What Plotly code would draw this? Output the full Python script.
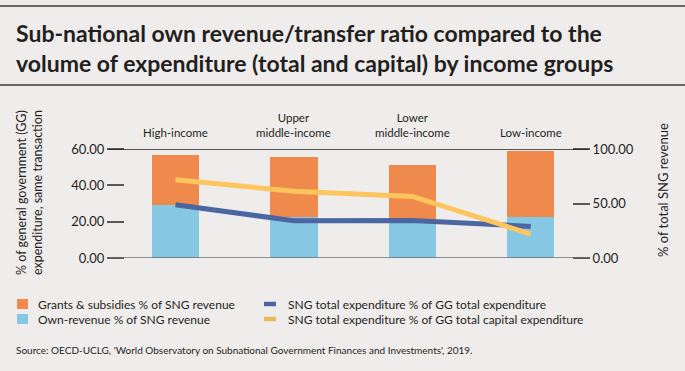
import plotly.graph_objects as go

# ---- data ----
categories = ["High-income", "Upper middle-income", "Lower middle-income", "Low-income"]
category_labels = ["High-income", "Upper<br>middle-income", "Lower<br>middle-income", "Low-income"]
own_revenue = [48.9, 37.2, 36.1, 37.2]          # % of SNG revenue (right axis)
grants_subsidies = [45.9, 55.1, 49.5, 61.2]     # % of SNG revenue (right axis)
total_exp_share = [29.3, 20.5, 20.7, 17.4]      # % of GG total expenditure (left axis)
capital_exp_share = [43.1, 36.7, 33.9, 13.2]    # % of GG total capital expenditure (left axis)
left_ticks = [0, 20, 40, 60]
right_ticks = [0, 50, 100]

# ---- layout geometry (pixels) ----
W, H = 685, 371
L, R, T, B = 125, 572, 149, 258
PW, PH = R - L, B - T

def xp(px):
    return (px - L) / PW

def yp(py):
    return (B - py) / PH

BG = "#efedec"
TXT = "#231f20"
ORANGE = "#f08a4c"
LBLUE = "#86c7e4"
DBLUE = "#4b66a0"
YELLOW = "#fdc55e"
FONT = "Lato"

fig = go.Figure()
fig.add_trace(go.Bar(x=categories, y=own_revenue, name="Own-revenue % of SNG revenue",
                     marker=dict(color=LBLUE, line=dict(width=0)), width=0.4, yaxis="y",
                     showlegend=False))
fig.add_trace(go.Bar(x=categories, y=grants_subsidies, name="Grants & subsidies % of SNG revenue",
                     marker=dict(color=ORANGE, line=dict(width=0)), width=0.4, yaxis="y",
                     showlegend=False))
fig.add_trace(go.Scatter(x=categories, y=total_exp_share, mode="lines",
                         name="SNG total expenditure % of GG total expenditure",
                         line=dict(color=DBLUE, width=5), yaxis="y2", showlegend=False))
fig.add_trace(go.Scatter(x=categories, y=capital_exp_share, mode="lines",
                         name="SNG total expenditure % of GG total capital expenditure",
                         line=dict(color=YELLOW, width=5), yaxis="y2", showlegend=False))

span = 118.4
a = -(175.5 - L) / span
b = a + PW / span

axis_common = dict(showgrid=False, zeroline=False, showline=False, ticks="outside",
                   ticklen=17, tickwidth=1.5, tickcolor="#58595b", tickformat=".2f",
                   tickfont=dict(family=FONT, size=13, color=TXT))

fig.update_layout(
    width=W, height=H,
    margin=dict(l=L, r=W - R, t=T, b=H - B, pad=0),
    paper_bgcolor=BG, plot_bgcolor=BG,
    barmode="stack", bargap=0,
    font=dict(family=FONT, color=TXT),
    xaxis=dict(range=[a, b], showticklabels=False, showgrid=False, zeroline=False,
               showline=False, ticks=""),
    yaxis=dict(range=[0, 100], side="right", tickvals=right_ticks, **axis_common),
    yaxis2=dict(range=[0, 60], side="left", overlaying="y", tickvals=left_ticks, **axis_common),
)

shapes = []
# top and bottom axis rules
shapes.append(dict(type="line", xref="paper", yref="y2", x0=xp(108), x1=xp(589), y0=60, y1=60,
                   line=dict(color=TXT, width=1.5)))
shapes.append(dict(type="line", xref="paper", yref="y2", x0=xp(108), x1=xp(589), y0=0, y1=0,
                   line=dict(color="#6d6e71", width=1.5)))
# title rules
for yy in (6, 85):
    shapes.append(dict(type="line", xref="paper", yref="paper", x0=xp(0), x1=xp(W),
                       y0=yp(yy), y1=yp(yy), line=dict(color="#3a3a3a", width=1.5)))
# legend symbols
shapes.append(dict(type="rect", xref="paper", yref="paper", x0=xp(17), x1=xp(28),
                   y0=yp(309), y1=yp(299), fillcolor=ORANGE, line=dict(width=0)))
shapes.append(dict(type="rect", xref="paper", yref="paper", x0=xp(17), x1=xp(28),
                   y0=yp(324), y1=yp(314), fillcolor=LBLUE, line=dict(width=0)))
shapes.append(dict(type="line", xref="paper", yref="paper", x0=xp(264), x1=xp(276),
                   y0=yp(304), y1=yp(304), line=dict(color=DBLUE, width=4.5)))
shapes.append(dict(type="line", xref="paper", yref="paper", x0=xp(264), x1=xp(276),
                   y0=yp(319), y1=yp(319), line=dict(color="#e8b85a", width=4.5)))
fig.update_layout(shapes=shapes)

ann = []
# title
ann.append(dict(text="<b>Sub-national own revenue/transfer ratio compared to the</b>",
                xref="paper", yref="paper", x=xp(14), y=yp(33), xanchor="left", yanchor="middle",
                showarrow=False, font=dict(family=FONT, size=23, color=TXT)))
ann.append(dict(text="<b>volume of expenditure (total and capital) by income groups</b>",
                xref="paper", yref="paper", x=xp(14), y=yp(63), xanchor="left", yanchor="middle",
                showarrow=False, font=dict(family=FONT, size=23, color=TXT)))
# category labels
for c, lab in zip(categories, category_labels):
    ann.append(dict(text=lab, xref="x", yref="paper", x=c, y=yp(141), xanchor="center",
                    yanchor="bottom", showarrow=False, align="center",
                    font=dict(family=FONT, size=11.5, color=TXT)))
# axis titles
ann.append(dict(text="% of general government (GG)<br>expenditure, same transaction",
                xref="paper", yref="paper", x=xp(29), y=yp(193), xanchor="center", yanchor="middle",
                textangle=-90, showarrow=False, align="center",
                font=dict(family=FONT, size=12.5, color=TXT)))
ann.append(dict(text="% of total SNG revenue",
                xref="paper", yref="paper", x=xp(663), y=yp(190), xanchor="center", yanchor="middle",
                textangle=-90, showarrow=False, font=dict(family=FONT, size=13, color=TXT)))
# legend texts
leg = [("Grants & subsidies % of SNG revenue", 36, 304),
       ("Own-revenue % of SNG revenue", 36, 319),
       ("SNG total expenditure % of GG total expenditure", 286, 304),
       ("SNG total expenditure % of GG total capital expenditure", 286, 319)]
for t, x0, y0 in leg:
    ann.append(dict(text=t, xref="paper", yref="paper", x=xp(x0), y=yp(y0), xanchor="left",
                    yanchor="middle", showarrow=False, font=dict(family=FONT, size=12, color=TXT)))
# source
ann.append(dict(text="Source: OECD-UCLG, 'World Observatory on Subnational Government Finances and Investments', 2019.",
                xref="paper", yref="paper", x=xp(14), y=yp(350), xanchor="left", yanchor="middle",
                showarrow=False, font=dict(family=FONT, size=10, color=TXT)))
fig.update_layout(annotations=ann)

fig.write_html("out.html", config={"displayModeBar": False},
               post_script="document.body.style.margin='0px';document.body.style.background='%s';" % BG)
